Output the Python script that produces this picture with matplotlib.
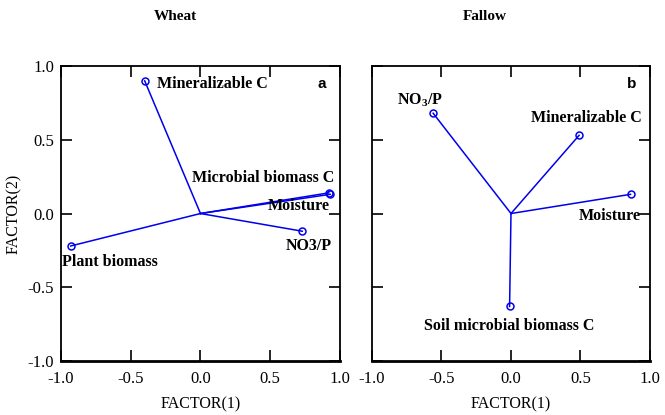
import matplotlib
matplotlib.use("Agg")
import matplotlib.pyplot as plt

plt.rcParams["font.family"] = ["Liberation Serif", "DejaVu Serif"]
plt.rcParams["mathtext.fontset"] = "custom"
plt.rcParams["mathtext.rm"] = "Liberation Serif:bold"
plt.rcParams["mathtext.bf"] = "Liberation Serif:bold"

LINE_COLOR = "#0000ee"

# Wheat loadings (FACTOR 1, FACTOR 2)
wheat_names = ["Mineralizable C", "Microbial biomass C", "Moisture", "NO3/P", "Plant biomass"]
wheat_f1 = [-0.40, 0.92, 0.93, 0.73, -0.93]
wheat_f2 = [0.90, 0.14, 0.13, -0.12, -0.22]

# Fallow loadings
fallow_names = ["NO$_3$/P", "Mineralizable C", "Moisture", "Soil microbial biomass C"]
fallow_f1 = [-0.56, 0.49, 0.86, -0.01]
fallow_f2 = [0.68, 0.53, 0.13, -0.63]

# label placement (x, y, ha) per variable, in data coordinates
wheat_labels = [(-0.31, 0.88, "left"), (0.96, 0.24, "right"), (0.93, 0.05, "right"),
                (0.94, -0.22, "right"), (-0.99, -0.33, "left")]
fallow_labels = [(-0.82, 0.77, "left"), (0.94, 0.645, "right"), (0.93, -0.015, "right"),
                 (-0.01, -0.76, "center")]

ticks = [-1.0, -0.5, 0.0, 0.5, 1.0]


def draw_panel(ax, f1, f2, names, labels, letter):
    for x, y in zip(f1, f2):
        ax.plot([0, x], [0, y], color=LINE_COLOR, lw=1.1)
    ax.plot(f1, f2, "o", mfc="none", mec=LINE_COLOR, ms=5, mew=1.1)
    for name, (lx, ly, ha) in zip(names, labels):
        ax.text(lx, ly, name, ha=ha, va="center", fontsize=11.5, fontweight="bold")
    ax.text(0.87, 0.88, letter, ha="center", va="center", fontsize=11,
            fontweight="bold", family="Liberation Sans")
    ax.set_xlim(-1, 1)
    ax.set_ylim(-1, 1)
    ax.set_xticks(ticks)
    ax.set_yticks(ticks)
    ax.set_xticklabels([f"{t:.1f}" for t in ticks])
    ax.tick_params(direction="in", top=True, right=True, length=8, width=1.2,
                   labelsize=12, pad=7)
    for sp in ax.spines.values():
        sp.set_linewidth(1.3)
    ax.spines["bottom"].set_linewidth(2.0)
    ax.set_xlabel("FACTOR(1)", fontsize=11.5, labelpad=7)


fig = plt.figure(figsize=(6.65, 4.15), dpi=100)
ax1 = fig.add_axes([0.0917, 0.1301, 0.4195, 0.7108])
ax2 = fig.add_axes([0.5594, 0.1301, 0.418, 0.7108])

draw_panel(ax1, wheat_f1, wheat_f2, wheat_names, wheat_labels, "a")
draw_panel(ax2, fallow_f1, fallow_f2, fallow_names, fallow_labels, "b")
ax1.set_yticklabels([f"{t:.1f}" for t in ticks])
ax2.set_yticklabels([])
ax1.tick_params(axis="y", pad=5)
ax1.set_ylabel("FACTOR(2)", fontsize=11.5, labelpad=4)

fig.text(175 / 665, 1 - 16 / 415, "Wheat", ha="center", va="center",
         fontsize=11, fontweight="bold")
fig.text(485 / 665, 1 - 17 / 415, "Fallow", ha="center", va="center",
         fontsize=11, fontweight="bold")

fig.savefig("out.png", dpi=100)
